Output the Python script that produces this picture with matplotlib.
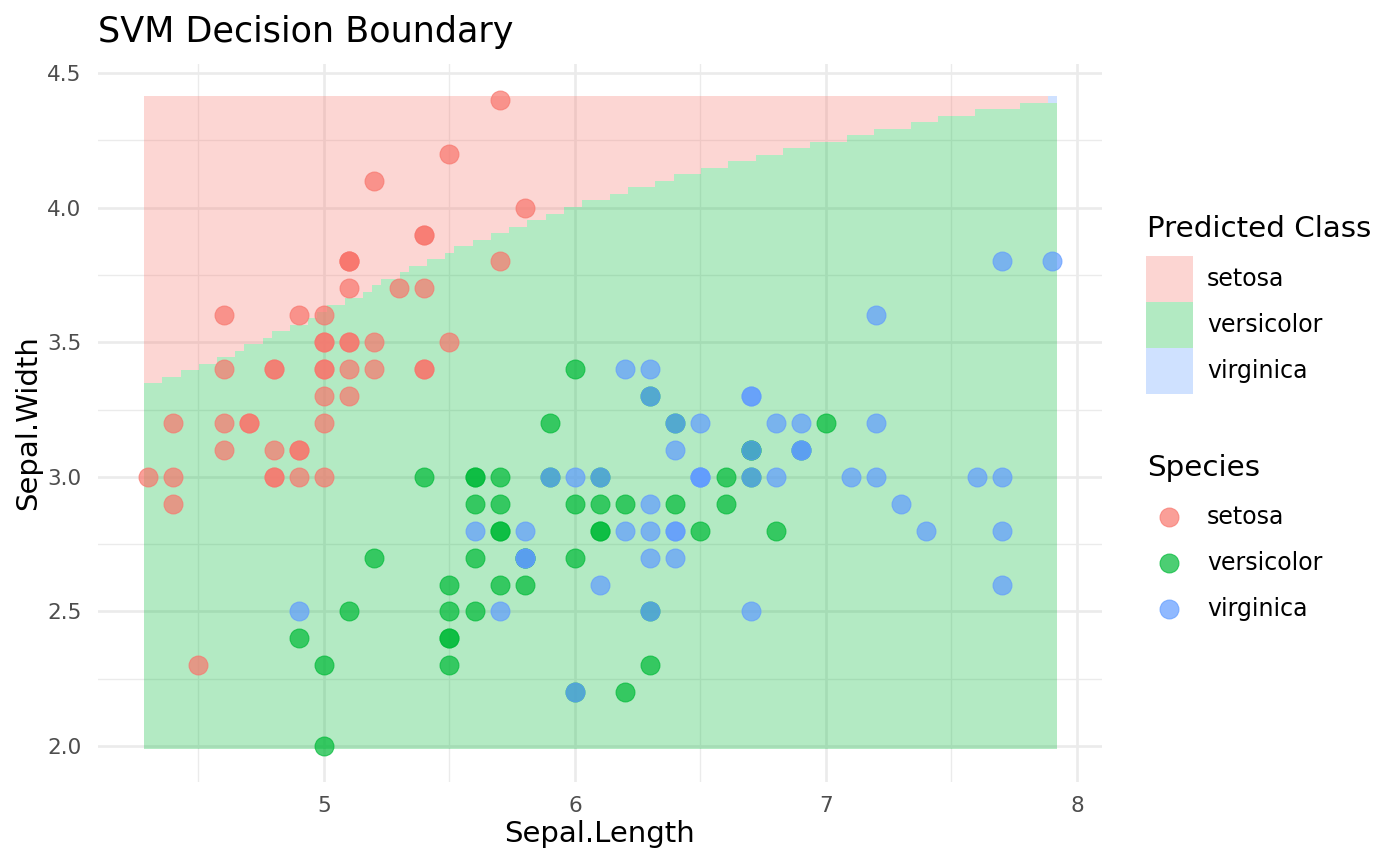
import numpy as np
import matplotlib.pyplot as plt
from matplotlib.colors import ListedColormap
from matplotlib.patches import Rectangle

# iris measurements (Sepal.Length, Sepal.Width) per species
setosa_length = [5.1, 4.9, 4.7, 4.6, 5.0, 5.4, 4.6, 5.0, 4.4, 4.9,
                 5.4, 4.8, 4.8, 4.3, 5.8, 5.7, 5.4, 5.1, 5.7, 5.1,
                 5.4, 5.1, 4.6, 5.1, 4.8, 5.0, 5.0, 5.2, 5.2, 4.7,
                 4.8, 5.4, 5.2, 5.5, 4.9, 5.0, 5.5, 4.9, 4.4, 5.1,
                 5.0, 4.5, 4.4, 5.0, 5.1, 4.8, 5.1, 4.6, 5.3, 5.0]
setosa_width = [3.5, 3.0, 3.2, 3.1, 3.6, 3.9, 3.4, 3.4, 2.9, 3.1,
                3.7, 3.4, 3.0, 3.0, 4.0, 4.4, 3.9, 3.5, 3.8, 3.8,
                3.4, 3.7, 3.6, 3.3, 3.4, 3.0, 3.4, 3.5, 3.4, 3.2,
                3.1, 3.4, 4.1, 4.2, 3.1, 3.2, 3.5, 3.6, 3.0, 3.4,
                3.5, 2.3, 3.2, 3.5, 3.8, 3.0, 3.8, 3.2, 3.7, 3.3]
versicolor_length = [7.0, 6.4, 6.9, 5.5, 6.5, 5.7, 6.3, 4.9, 6.6, 5.2,
                     5.0, 5.9, 6.0, 6.1, 5.6, 6.7, 5.6, 5.8, 6.2, 5.6,
                     5.9, 6.1, 6.3, 6.1, 6.4, 6.6, 6.8, 6.7, 6.0, 5.7,
                     5.5, 5.5, 5.8, 6.0, 5.4, 6.0, 6.7, 6.3, 5.6, 5.5,
                     5.5, 6.1, 5.8, 5.0, 5.6, 5.7, 5.7, 6.2, 5.1, 5.7]
versicolor_width = [3.2, 3.2, 3.1, 2.3, 2.8, 2.8, 3.3, 2.4, 2.9, 2.7,
                    2.0, 3.0, 2.2, 2.9, 2.9, 3.1, 3.0, 2.7, 2.2, 2.5,
                    3.2, 2.8, 2.5, 2.8, 2.9, 3.0, 2.8, 3.0, 2.9, 2.6,
                    2.4, 2.4, 2.7, 2.7, 3.0, 3.4, 3.1, 2.3, 3.0, 2.5,
                    2.6, 3.0, 2.6, 2.3, 2.7, 3.0, 2.9, 2.9, 2.5, 2.8]
virginica_length = [6.3, 5.8, 7.1, 6.3, 6.5, 7.6, 4.9, 7.3, 6.7, 7.2,
                    6.5, 6.4, 6.8, 5.7, 5.8, 6.4, 6.5, 7.7, 7.7, 6.0,
                    6.9, 5.6, 7.7, 6.3, 6.7, 7.2, 6.2, 6.1, 6.4, 7.2,
                    7.4, 7.9, 6.4, 6.3, 6.1, 7.7, 6.3, 6.4, 6.0, 6.9,
                    6.7, 6.9, 5.8, 6.8, 6.7, 6.7, 6.3, 6.5, 6.2, 5.9]
virginica_width = [3.3, 2.7, 3.0, 2.9, 3.0, 3.0, 2.5, 2.9, 2.5, 3.6,
                   3.2, 2.7, 3.0, 2.5, 2.8, 3.2, 3.0, 3.8, 2.6, 2.2,
                   3.2, 2.8, 2.8, 2.7, 3.3, 3.2, 2.8, 3.0, 2.8, 3.0,
                   2.8, 3.8, 2.8, 2.8, 2.6, 3.0, 3.4, 3.1, 3.0, 3.1,
                   3.1, 3.1, 2.7, 3.2, 3.3, 3.0, 2.5, 3.0, 3.4, 3.0]

species = ["setosa", "versicolor", "virginica"]
colors = ["#F8766D", "#00BA38", "#619CFF"]

# prediction grid (100 x 100 tiles over the data range)
grid_n = 100
grid_x = (4.3, 7.9)
grid_y = (2.0, 4.4)
# number of tiles from the bottom predicted versicolor, run-length coded by column
versicolor_rows = [56, 57, 58, 59, 60, 61, 62, 63, 64, 65, 66, 67, 68, 69, 70,
                   71, 72, 73, 74, 75, 76, 77, 78, 79, 80, 81, 82, 83, 84, 85,
                   86, 87, 88, 89, 90, 91, 92, 93, 94, 95, 96, 97, 98, 99]
column_runs = [2, 2, 2, 2, 2, 1, 2, 1, 2, 2, 1, 1, 2, 2, 1,
               1, 2, 1, 2, 2, 1, 2, 2, 2, 2, 2, 2, 2, 3, 2,
               3, 2, 3, 3, 3, 3, 3, 4, 3, 4, 3, 4, 5, 4]
# (column, row) tiles predicted virginica
virginica_tiles = [(99, 99)]


def px(x, y):
    return x / 1400, 1 - y / 866


pred = np.zeros((grid_n, grid_n), dtype=int)
col = 0
for rows, run in zip(versicolor_rows, column_runs):
    pred[:rows, col:col + run] = 1
    col += run
for c, r in virginica_tiles:
    pred[r, c] = 2

dx = (grid_x[1] - grid_x[0]) / (grid_n - 1)
dy = (grid_y[1] - grid_y[0]) / (grid_n - 1)

fig = plt.figure(figsize=(14, 8.66), dpi=100)
ax = fig.add_axes([98 / 1400, 84 / 866, 1004 / 1400, 718 / 866])

ax.imshow(pred, cmap=ListedColormap(colors), vmin=0, vmax=2, alpha=0.3,
          origin="lower", interpolation="nearest", aspect="auto",
          extent=[grid_x[0] - dx / 2, grid_x[1] + dx / 2,
                  grid_y[0] - dy / 2, grid_y[1] + dy / 2], zorder=1)

point_data = [(setosa_length, setosa_width),
              (versicolor_length, versicolor_width),
              (virginica_length, virginica_width)]
for (xs, ys), c in zip(point_data, colors):
    ax.scatter(xs, ys, s=185, color=c, alpha=0.7, edgecolors=c,
               linewidths=0.8, zorder=3)

ax.set_xlim(4.1, 8.1)
ax.set_ylim(grid_y[0] - dy / 2 - 0.05 * (grid_y[1] - grid_y[0] + dy),
            grid_y[1] + dy / 2 + 0.05 * (grid_y[1] - grid_y[0] + dy))
ax.set_xticks([5, 6, 7, 8])
ax.set_xticklabels(["5", "6", "7", "8"])
ax.set_xticks([4.5, 5.5, 6.5, 7.5], minor=True)
ax.set_yticks([2.0, 2.5, 3.0, 3.5, 4.0, 4.5])
ax.set_yticklabels(["2.0", "2.5", "3.0", "3.5", "4.0", "4.5"])
ax.set_yticks([2.25, 2.75, 3.25, 3.75, 4.25], minor=True)
ax.tick_params(which="both", length=0)
ax.tick_params(axis="x", pad=10, labelsize=15.5, labelcolor="#4D4D4D")
ax.tick_params(axis="y", pad=12, labelsize=15.5, labelcolor="#4D4D4D")
ax.grid(which="major", color="#EBEBEB", linewidth=1.9, zorder=0)
ax.grid(which="minor", color="#EBEBEB", linewidth=0.95, zorder=0)
ax.set_axisbelow(True)
for s in ax.spines.values():
    s.set_visible(False)

fig.text(*px(98, 42), "SVM Decision Boundary", fontsize=25.2, va="baseline", ha="left")
fig.text(*px(600, 834), "Sepal.Length", fontsize=21, va="center", ha="center")
fig.text(*px(28, 423), "Sepal.Width", fontsize=21, va="center", ha="center", rotation=90)

# legend: predicted class (tiles)
fig.text(*px(1147, 237), "Predicted Class", fontsize=21.2, va="baseline", ha="left")
for i, (name, c) in enumerate(zip(species, colors)):
    top = 256 + 46 * i
    fig.add_artist(Rectangle(px(1146, top + 46), 47 / 1400, 46 / 866,
                             facecolor=c, alpha=0.3, edgecolor="none",
                             transform=fig.transFigure))
    fig.text(*px(1207, top + 23), name, fontsize=17, va="center", ha="left")

# legend: species (points)
fig.text(*px(1147, 476), "Species", fontsize=21.2, va="baseline", ha="left")
leg = fig.add_axes([0, 0, 1, 1])
leg.set_xlim(0, 1400)
leg.set_ylim(866, 0)
leg.axis("off")
for i, (name, c) in enumerate(zip(species, colors)):
    y = 517 + 46 * i
    leg.scatter([1169], [y], s=185, color=c, alpha=0.7, edgecolors=c, linewidths=0.8)
    fig.text(*px(1207, y), name, fontsize=17, va="center", ha="left")

fig.savefig("out.png", dpi=100)
